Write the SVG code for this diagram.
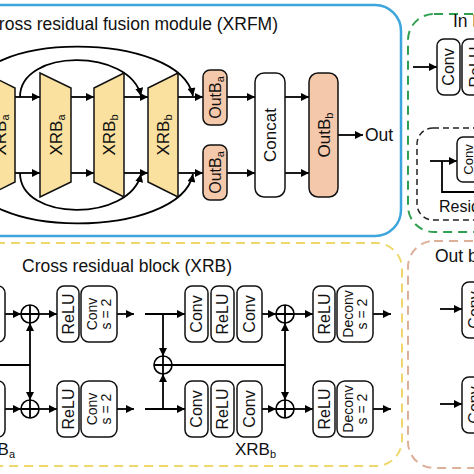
<svg xmlns="http://www.w3.org/2000/svg" width="474" height="474" viewBox="0 0 474 474">
<defs>
<marker id="ah" viewBox="0 0 10 10" refX="10" refY="5" markerWidth="8.5" markerHeight="8" markerUnits="userSpaceOnUse" orient="auto"><path d="M0,0 L10,5 L0,10 z" fill="#000"/></marker>
</defs>
<style>
text{font-family:"Liberation Sans",Arial,Helvetica,sans-serif;fill:#111}
.t{font-size:17.5px}
.l17{font-size:17px}
.l16{font-size:16px}
.l14{font-size:14px}
.l13{font-size:13px}
.sub{font-size:11px}
.box{fill:#fff;stroke:#111;stroke-width:1.5}
.sal{fill:#f4c8aa;stroke:#111;stroke-width:1.5}
.trap{fill:#fae19f;stroke:#111;stroke-width:1.5}
.c{fill:none;stroke:#000;stroke-width:1.8}
.a{marker-end:url(#ah)}
.sum{fill:#fff;stroke:#000;stroke-width:1.6}
.dash{fill:none;stroke-width:2;stroke-dasharray:9 6}
</style>

<!-- panels -->
<g id="panel-xrfm">
<rect x="-60" y="5" width="461" height="231" rx="26" fill="none" stroke="#3ca5dc" stroke-width="2.5"/>
<text class="t" x="278" y="30" text-anchor="end">Cross residual fusion module (XRFM)</text>
</g>
<g id="panel-xrb">
<rect class="dash" x="-60" y="243" width="462" height="223" rx="26" stroke="#eed86c"/>
<text class="t" x="22" y="272">Cross residual block (XRB)</text>
</g>
<g id="panel-in">
<rect class="dash" x="408" y="14" width="200" height="218" rx="26" stroke="#2fa04f"/>
<text class="t" x="453" y="27">In block</text>
</g>
<g id="panel-out">
<rect class="dash" x="408" y="241" width="200" height="227" rx="26" stroke="#ddb09a"/>
<text class="t" x="435" y="262">Out block</text>
</g>
<g id="panel-residual">
<rect x="417" y="128" width="150" height="92" rx="16" fill="none" stroke="#222" stroke-width="1.5" stroke-dasharray="6 4"/>
<text class="l16" x="439" y="212">Residual block</text>
</g>

<!-- connectors -->
<g id="connectors" class="c">
<path class="a" d="M15,97 H40"/>
<path class="a" d="M71,97 H94"/>
<path class="a" d="M124,97 H148"/>
<path class="a" d="M178,97 H203"/>
<path class="a" d="M227,97 H255"/>
<path class="a" d="M285,97 H309"/>
<path class="a" d="M15,173 H40"/>
<path class="a" d="M71,173 H94"/>
<path class="a" d="M124,173 H148"/>
<path class="a" d="M178,173 H203"/>
<path class="a" d="M227,173 H255"/>
<path class="a" d="M285,173 H309"/>
<path class="a" d="M338,135 H363"/>
<path class="a" d="M20,97 C20,48 130,48 141,96"/>
<path class="a" d="M20,173 C20,222 130,222 141,174"/>
<path class="a" d="M-29,97 C-29,30 180,30 193,96"/>
<path class="a" d="M-29,173 C-29,240 180,240 193,174"/>

<path class="a" d="M5,314 H21"/>
<path class="a" d="M5,409 H21"/>
<path d="M-5,365 H30"/>
<path class="a" d="M30,365 V323"/>
<path class="a" d="M30,365 V400"/>
<path class="a" d="M39,314 H57"/>
<path class="a" d="M39,409 H57"/>
<path class="a" d="M117,314 H134"/>
<path class="a" d="M117,409 H134"/>

<path class="a" d="M145,314 H185"/>
<path class="a" d="M145,409 H185"/>
<path class="a" d="M163,314 V356"/>
<path class="a" d="M163,409 V374"/>
<path d="M172,365 H285"/>
<path class="a" d="M285,365 V323"/>
<path class="a" d="M285,365 V400"/>
<path class="a" d="M262,314 H276"/>
<path class="a" d="M262,409 H276"/>
<path class="a" d="M294,314 H313"/>
<path class="a" d="M294,409 H313"/>
<path class="a" d="M373,314 H391"/>
<path class="a" d="M373,409 H391"/>

<path class="a" d="M413,67 H437"/>
<path class="a" d="M430,161 H457"/>
<path d="M442,161 V192 H480"/>
<path class="a" d="M440,309 H462"/>
<path class="a" d="M440,404 H462"/>
</g>

<!-- XRFM nodes -->
<g id="xrb-a1"><polygon class="trap" points="-15,73 15,88 15,182 -15,197"/><text class="l17" text-anchor="middle" transform="translate(0,135) rotate(-90)" y="6">XRB<tspan class="sub" dy="3">a</tspan></text></g>
<g id="xrb-a2"><polygon class="trap" points="40,73 71,88 71,182 40,197"/><text class="l17" text-anchor="middle" transform="translate(55.5,135) rotate(-90)" y="6">XRB<tspan class="sub" dy="3">a</tspan></text></g>
<g id="xrb-b1"><polygon class="trap" points="94,88 124,73 124,197 94,182"/><text class="l17" text-anchor="middle" transform="translate(109,135) rotate(-90)" y="6">XRB<tspan class="sub" dy="3">b</tspan></text></g>
<g id="xrb-b2"><polygon class="trap" points="148,88 178,73 178,197 148,182"/><text class="l17" text-anchor="middle" transform="translate(163,135) rotate(-90)" y="6">XRB<tspan class="sub" dy="3">b</tspan></text></g>
<g id="outba-top"><rect class="sal" x="203" y="70" width="24" height="55" rx="7"/><text class="l16" text-anchor="middle" transform="translate(215,97.5) rotate(-90)" y="5.7">OutB<tspan class="sub" dy="3">a</tspan></text></g>
<g id="outba-bot"><rect class="sal" x="203" y="145" width="24" height="55" rx="7"/><text class="l16" text-anchor="middle" transform="translate(215,172.5) rotate(-90)" y="5.7">OutB<tspan class="sub" dy="3">a</tspan></text></g>
<g id="concat"><rect class="box" x="255" y="73" width="30" height="124" rx="9"/><text class="l17" text-anchor="middle" transform="translate(270,135) rotate(-90)" y="6">Concat</text></g>
<g id="outbb"><rect class="sal" x="309" y="73" width="29" height="124" rx="9"/><text class="l17" text-anchor="middle" transform="translate(323.5,135) rotate(-90)" y="6">OutB<tspan class="sub" dy="3">b</tspan></text></g>
<g id="out"><text class="t" x="365" y="141">Out</text></g>

<!-- XRB nodes -->
<g id="xrb-in-top"><rect class="box" x="-20" y="286" width="25" height="56" rx="7"/></g>
<g id="xrb-in-bot"><rect class="box" x="-20" y="381" width="25" height="56" rx="7"/></g>
<g id="sum-a-top"><circle class="sum" cx="30" cy="314" r="9"/><path class="c" d="M21,314 H39 M30,305 V323" stroke-width="1.4"/></g>
<g id="sum-a-bot"><circle class="sum" cx="30" cy="409" r="9"/><path class="c" d="M21,409 H39 M30,400 V418" stroke-width="1.4"/></g>
<g id="relu-a-top"><rect class="box" x="57" y="286" width="22" height="56" rx="7"/><text class="l16" text-anchor="middle" transform="translate(68,314) rotate(-90)" y="5.7">ReLU</text></g>
<g id="conv-a-top"><rect class="box" x="81" y="286" width="36" height="56" rx="8"/><text class="l14" text-anchor="middle" transform="translate(99,314) rotate(-90)"><tspan x="0" y="-2">Conv</tspan><tspan x="0" y="12">s = 2</tspan></text></g>
<g id="relu-a-bot"><rect class="box" x="57" y="381" width="22" height="56" rx="7"/><text class="l16" text-anchor="middle" transform="translate(68,409) rotate(-90)" y="5.7">ReLU</text></g>
<g id="conv-a-bot"><rect class="box" x="81" y="381" width="36" height="56" rx="8"/><text class="l14" text-anchor="middle" transform="translate(99,409) rotate(-90)"><tspan x="0" y="-2">Conv</tspan><tspan x="0" y="12">s = 2</tspan></text></g>
<g id="label-xrba"><text class="l17" x="-26" y="455">XRB<tspan class="sub" dy="3">a</tspan></text></g>

<g id="sum-b-mid"><circle class="sum" cx="163" cy="365" r="9"/><path class="c" d="M154,365 H172 M163,356 V374" stroke-width="1.4"/></g>
<g id="conv-b1-top"><rect class="box" x="185" y="286" width="23" height="56" rx="7"/><text class="l16" text-anchor="middle" transform="translate(196.5,314) rotate(-90)" y="5.7">Conv</text></g>
<g id="relu-b-top"><rect class="box" x="211" y="286" width="23" height="56" rx="7"/><text class="l16" text-anchor="middle" transform="translate(222.5,314) rotate(-90)" y="5.7">ReLU</text></g>
<g id="conv-b2-top"><rect class="box" x="237" y="286" width="25" height="56" rx="7"/><text class="l16" text-anchor="middle" transform="translate(249.5,314) rotate(-90)" y="5.7">Conv</text></g>
<g id="conv-b1-bot"><rect class="box" x="185" y="381" width="23" height="56" rx="7"/><text class="l16" text-anchor="middle" transform="translate(196.5,409) rotate(-90)" y="5.7">Conv</text></g>
<g id="relu-b-bot"><rect class="box" x="211" y="381" width="23" height="56" rx="7"/><text class="l16" text-anchor="middle" transform="translate(222.5,409) rotate(-90)" y="5.7">ReLU</text></g>
<g id="conv-b2-bot"><rect class="box" x="237" y="381" width="25" height="56" rx="7"/><text class="l16" text-anchor="middle" transform="translate(249.5,409) rotate(-90)" y="5.7">Conv</text></g>
<g id="sum-b-top"><circle class="sum" cx="285" cy="314" r="9"/><path class="c" d="M276,314 H294 M285,305 V323" stroke-width="1.4"/></g>
<g id="sum-b-bot"><circle class="sum" cx="285" cy="409" r="9"/><path class="c" d="M276,409 H294 M285,400 V418" stroke-width="1.4"/></g>
<g id="relu-b2-top"><rect class="box" x="313" y="286" width="22" height="56" rx="7"/><text class="l16" text-anchor="middle" transform="translate(324,314) rotate(-90)" y="5.7">ReLU</text></g>
<g id="deconv-top"><rect class="box" x="337" y="286" width="36" height="56" rx="8"/><text class="l14" text-anchor="middle" transform="translate(355,314) rotate(-90)"><tspan x="0" y="-2">Deconv</tspan><tspan x="0" y="12">s = 2</tspan></text></g>
<g id="relu-b2-bot"><rect class="box" x="313" y="381" width="22" height="56" rx="7"/><text class="l16" text-anchor="middle" transform="translate(324,409) rotate(-90)" y="5.7">ReLU</text></g>
<g id="deconv-bot"><rect class="box" x="337" y="381" width="36" height="56" rx="8"/><text class="l14" text-anchor="middle" transform="translate(355,409) rotate(-90)"><tspan x="0" y="-2">Deconv</tspan><tspan x="0" y="12">s = 2</tspan></text></g>
<g id="label-xrbb"><text class="l17" x="235" y="455">XRB<tspan class="sub" dy="3">b</tspan></text></g>

<!-- In / Out block nodes -->
<g id="in-conv"><rect class="box" x="437" y="39" width="23" height="56" rx="7"/><text class="l16" text-anchor="middle" transform="translate(448.5,67) rotate(-90)" y="5.7">Conv</text></g>
<g id="in-relu"><rect class="box" x="462" y="39" width="26" height="56" rx="7"/><text class="l16" text-anchor="middle" transform="translate(475,67) rotate(-90)" y="5.7">ReLU</text></g>
<g id="res-conv"><rect class="box" x="457" y="137" width="22" height="45" rx="6"/><text class="l13" text-anchor="middle" transform="translate(468,159.5) rotate(-90)" y="4.7">Conv</text></g>
<g id="out-top"><rect class="box" x="462" y="282" width="30" height="56" rx="7"/><text class="l16" text-anchor="middle" transform="translate(474,310) rotate(-90)" y="5.7">Conv</text></g>
<g id="out-bot"><rect class="box" x="462" y="377" width="30" height="56" rx="7"/><text class="l16" text-anchor="middle" transform="translate(474,405) rotate(-90)" y="5.7">Conv</text></g>
</svg>
